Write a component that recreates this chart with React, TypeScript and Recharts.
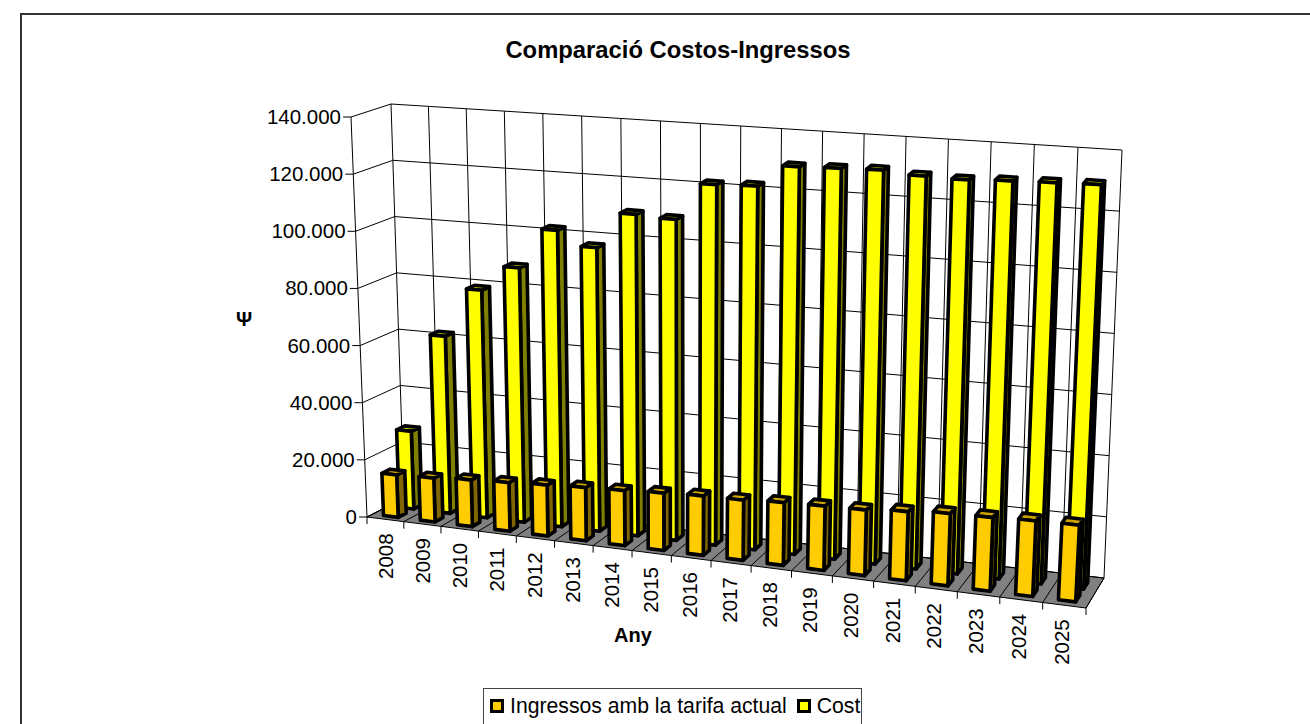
import React from "react";
import { BarChart, Bar, XAxis, YAxis, Legend } from "recharts";

const years = ["2008", "2009", "2010", "2011", "2012", "2013", "2014", "2015", "2016", "2017", "2018", "2019", "2020", "2021", "2022", "2023", "2024", "2025"];
const ingressos = [14800, 15200, 16100, 16700, 17400, 18100, 18600, 19300, 19900, 20100, 20800, 21200, 21500, 22500, 23500, 23800, 24300, 24500];
const cost = [27300, 62000, 79300, 88200, 102300, 97400, 109900, 109200, 122000, 122500, 130000, 130400, 130800, 129800, 129500, 130100, 130500, 130900];
const yTicks = [0, 20000, 40000, 60000, 80000, 100000, 120000, 140000];

const chartData = years.map((year, i) => ({ year, ingressos: ingressos[i], cost: cost[i] }));

const FONT = "'Liberation Sans', Arial, sans-serif";
const W = 1310;
const H = 724;

// flat plot rectangle recharts works in, every mark gets projected out of it
const PL = 367;
const PR = 1086;
const PT = 117;
const PB = 517;

// screen corners of the 3d box, [x, y]
const FBL = [367, 517];
const FTL = [351, 117];
const FBR = [1086, 608];
const FTR = [1108, 168];
const BBL = [404, 498];
const BTL = [391, 104];
const BBR = [1104, 578];
const BTR = [1122, 150];
const SPREAD = 1.09;

type Pt = [number, number];

function project(u: number, v: number, z: number): Pt {
  const t = u / (u + SPREAD * (1 - u));
  const at = (i: number) => {
    const fb = FBL[i] + (FBR[i] - FBL[i]) * t;
    const ft = FTL[i] + (FTR[i] - FTL[i]) * t;
    const bb = BBL[i] + (BBR[i] - BBL[i]) * t;
    const bt = BTL[i] + (BTR[i] - BTL[i]) * t;
    const f = fb + (ft - fb) * v;
    const b = bb + (bt - bb) * v;
    return f + (b - f) * z;
  };
  return [at(0), at(1)];
}

const toU = (x: number) => (x - PL) / (PR - PL);
const toV = (y: number) => (PB - y) / (PB - PT);
const poly = (pts: Pt[]) => pts.map((p) => p[0].toFixed(1) + "," + p[1].toFixed(1)).join(" ");

function makeBox(z0: number, z1: number, front: string, side: string, top: string) {
  return function Box(props: any) {
    const { x, y, width } = props;
    const u0 = toU(x);
    const u1 = toU(x + width);
    const v = toV(y);
    const common = { stroke: "#000", strokeWidth: 3.6, strokeLinejoin: "round" as const };
    return (
      <g>
        <polygon {...common} fill={side} points={poly([project(u1, 0, z0), project(u1, 0, z1), project(u1, v, z1), project(u1, v, z0)])} />
        <polygon {...common} fill={top} points={poly([project(u0, v, z0), project(u1, v, z0), project(u1, v, z1), project(u0, v, z1)])} />
        <polygon {...common} fill={front} points={poly([project(u0, 0, z0), project(u1, 0, z0), project(u1, v, z0), project(u0, v, z0)])} />
      </g>
    );
  };
}

const CostBox = makeBox(0.58, 0.8, "#FFFF00", "#808000", "#CCCC00");
const IngressosBox = makeBox(0.15, 0.37, "#FFCC00", "#806600", "#CCA300");

function line(a: Pt, b: Pt, key: string, color = "#000") {
  return <line key={key} x1={a[0]} y1={a[1]} x2={b[0]} y2={b[1]} stroke={color} strokeWidth={1} />;
}

function Walls() {
  const n = years.length;
  const top = yTicks[yTicks.length - 1];
  return (
    <g>
      <rect x={21} y={14} width={1400} height={800} fill="#fff" stroke="#333" strokeWidth={2} />
      <text x={678} y={58} textAnchor="middle" fontFamily={FONT} fontWeight="bold" fontSize={23.8}>Comparació Costos-Ingressos</text>
      <text x={633} y={642} textAnchor="middle" fontFamily={FONT} fontWeight="bold" fontSize={20}>Any</text>
      <text x={244} y={326} textAnchor="middle" fontFamily={FONT} fontWeight="bold" fontSize={20}>Ψ</text>
      <polygon points={poly([project(0, 0, 0), project(1, 0, 0), project(1, 0, 1), project(0, 0, 1)])} fill="#808080" stroke="#000" strokeWidth={1} />
      {yTicks.map((t) => (
        <g key={t}>
          {line(project(0, t / top, 0), project(0, t / top, 1), "s" + t)}
          {line(project(0, t / top, 1), project(1, t / top, 1), "b" + t)}
        </g>
      ))}
      {line(project(0, 0, 0), project(0, 1, 0), "fl")}
      {Array.from({ length: n + 1 }, (_, i) => (
        <g key={i}>
          {line(project(i / n, 0, 1), project(i / n, 1, 1), "v" + i)}
          {line(project(i / n, 0, 0), project(i / n, 0, 1), "f" + i)}
          {line(project(i / n, 0, 0), [project(i / n, 0, 0)[0], project(i / n, 0, 0)[1] + 7], "t" + i)}
        </g>
      ))}
    </g>
  );
}

function YTick(props: any) {
  const { y, payload } = props;
  const [px, py] = project(0, toV(y), 0);
  return (
    <g>
      <line x1={px - 8} y1={py} x2={px} y2={py} stroke="#000" strokeWidth={1} />
      <text x={px - 10} y={py + 7} textAnchor="end" fontFamily={FONT} fontSize={20.5} fill="#000">
        {payload.value === 0 ? "0" : payload.value.toLocaleString("de-DE")}
      </text>
    </g>
  );
}

function XTick(props: any) {
  const { x, payload } = props;
  const [px, py] = project(toU(x), 0, 0);
  const ty = py + 14;
  const tx = px + 7.5 - 3 * toU(x);
  return (
    <text x={tx} y={ty} transform={`rotate(-90 ${tx} ${ty})`} textAnchor="end" fontFamily={FONT} fontSize={20.5} fill="#000">
      {payload.value}
    </text>
  );
}

function LegendBox(props: any) {
  const items = [...(props.payload || [])].reverse();
  return (
    <div style={{ boxSizing: "border-box", width: 379, height: 38, border: "1px solid #444", background: "#fff", display: "flex", alignItems: "center", paddingLeft: 6, paddingBottom: 2, fontFamily: FONT, fontSize: 21.2, color: "#000", whiteSpace: "nowrap" }}>
      {items.map((it: any) => (
        <span key={it.value} style={{ display: "flex", alignItems: "center", marginRight: 10 }}>
          <span style={{ display: "inline-block", boxSizing: "border-box", width: 14, height: 14, border: "3px solid #000", background: it.color, marginRight: 6 }} />
          {it.value}
        </span>
      ))}
    </div>
  );
}

export default function App() {
  return (
    <div style={{ position: "absolute", left: 0, top: 0, width: W, height: H, overflow: "hidden", background: "#fff" }}>
      <BarChart
        width={W}
        height={H}
        data={chartData}
        barCategoryGap="30%"
        margin={{ left: PL - 1, right: W - PR, top: PT, bottom: H - PB - 1 }}
      >
        <Walls />
        <XAxis xAxisId="front" dataKey="year" interval={0} height={1} axisLine={false} tickLine={false} tick={<XTick />} />
        <XAxis xAxisId="back" dataKey="year" hide />
        <YAxis domain={[0, 140000]} ticks={yTicks} width={1} axisLine={false} tickLine={false} tick={<YTick />} />
        <Legend
          layout="horizontal"
          verticalAlign="middle"
          wrapperStyle={{ position: "absolute", left: 483, top: 688, width: 379, height: 38 }}
          content={<LegendBox />}
        />
        <Bar xAxisId="back" dataKey="cost" name="Cost" fill="#FFFF00" shape={CostBox} isAnimationActive={false} />
        <Bar xAxisId="front" dataKey="ingressos" name="Ingressos amb la tarifa actual" fill="#FFCC00" shape={IngressosBox} isAnimationActive={false} />
      </BarChart>
    </div>
  );
}
